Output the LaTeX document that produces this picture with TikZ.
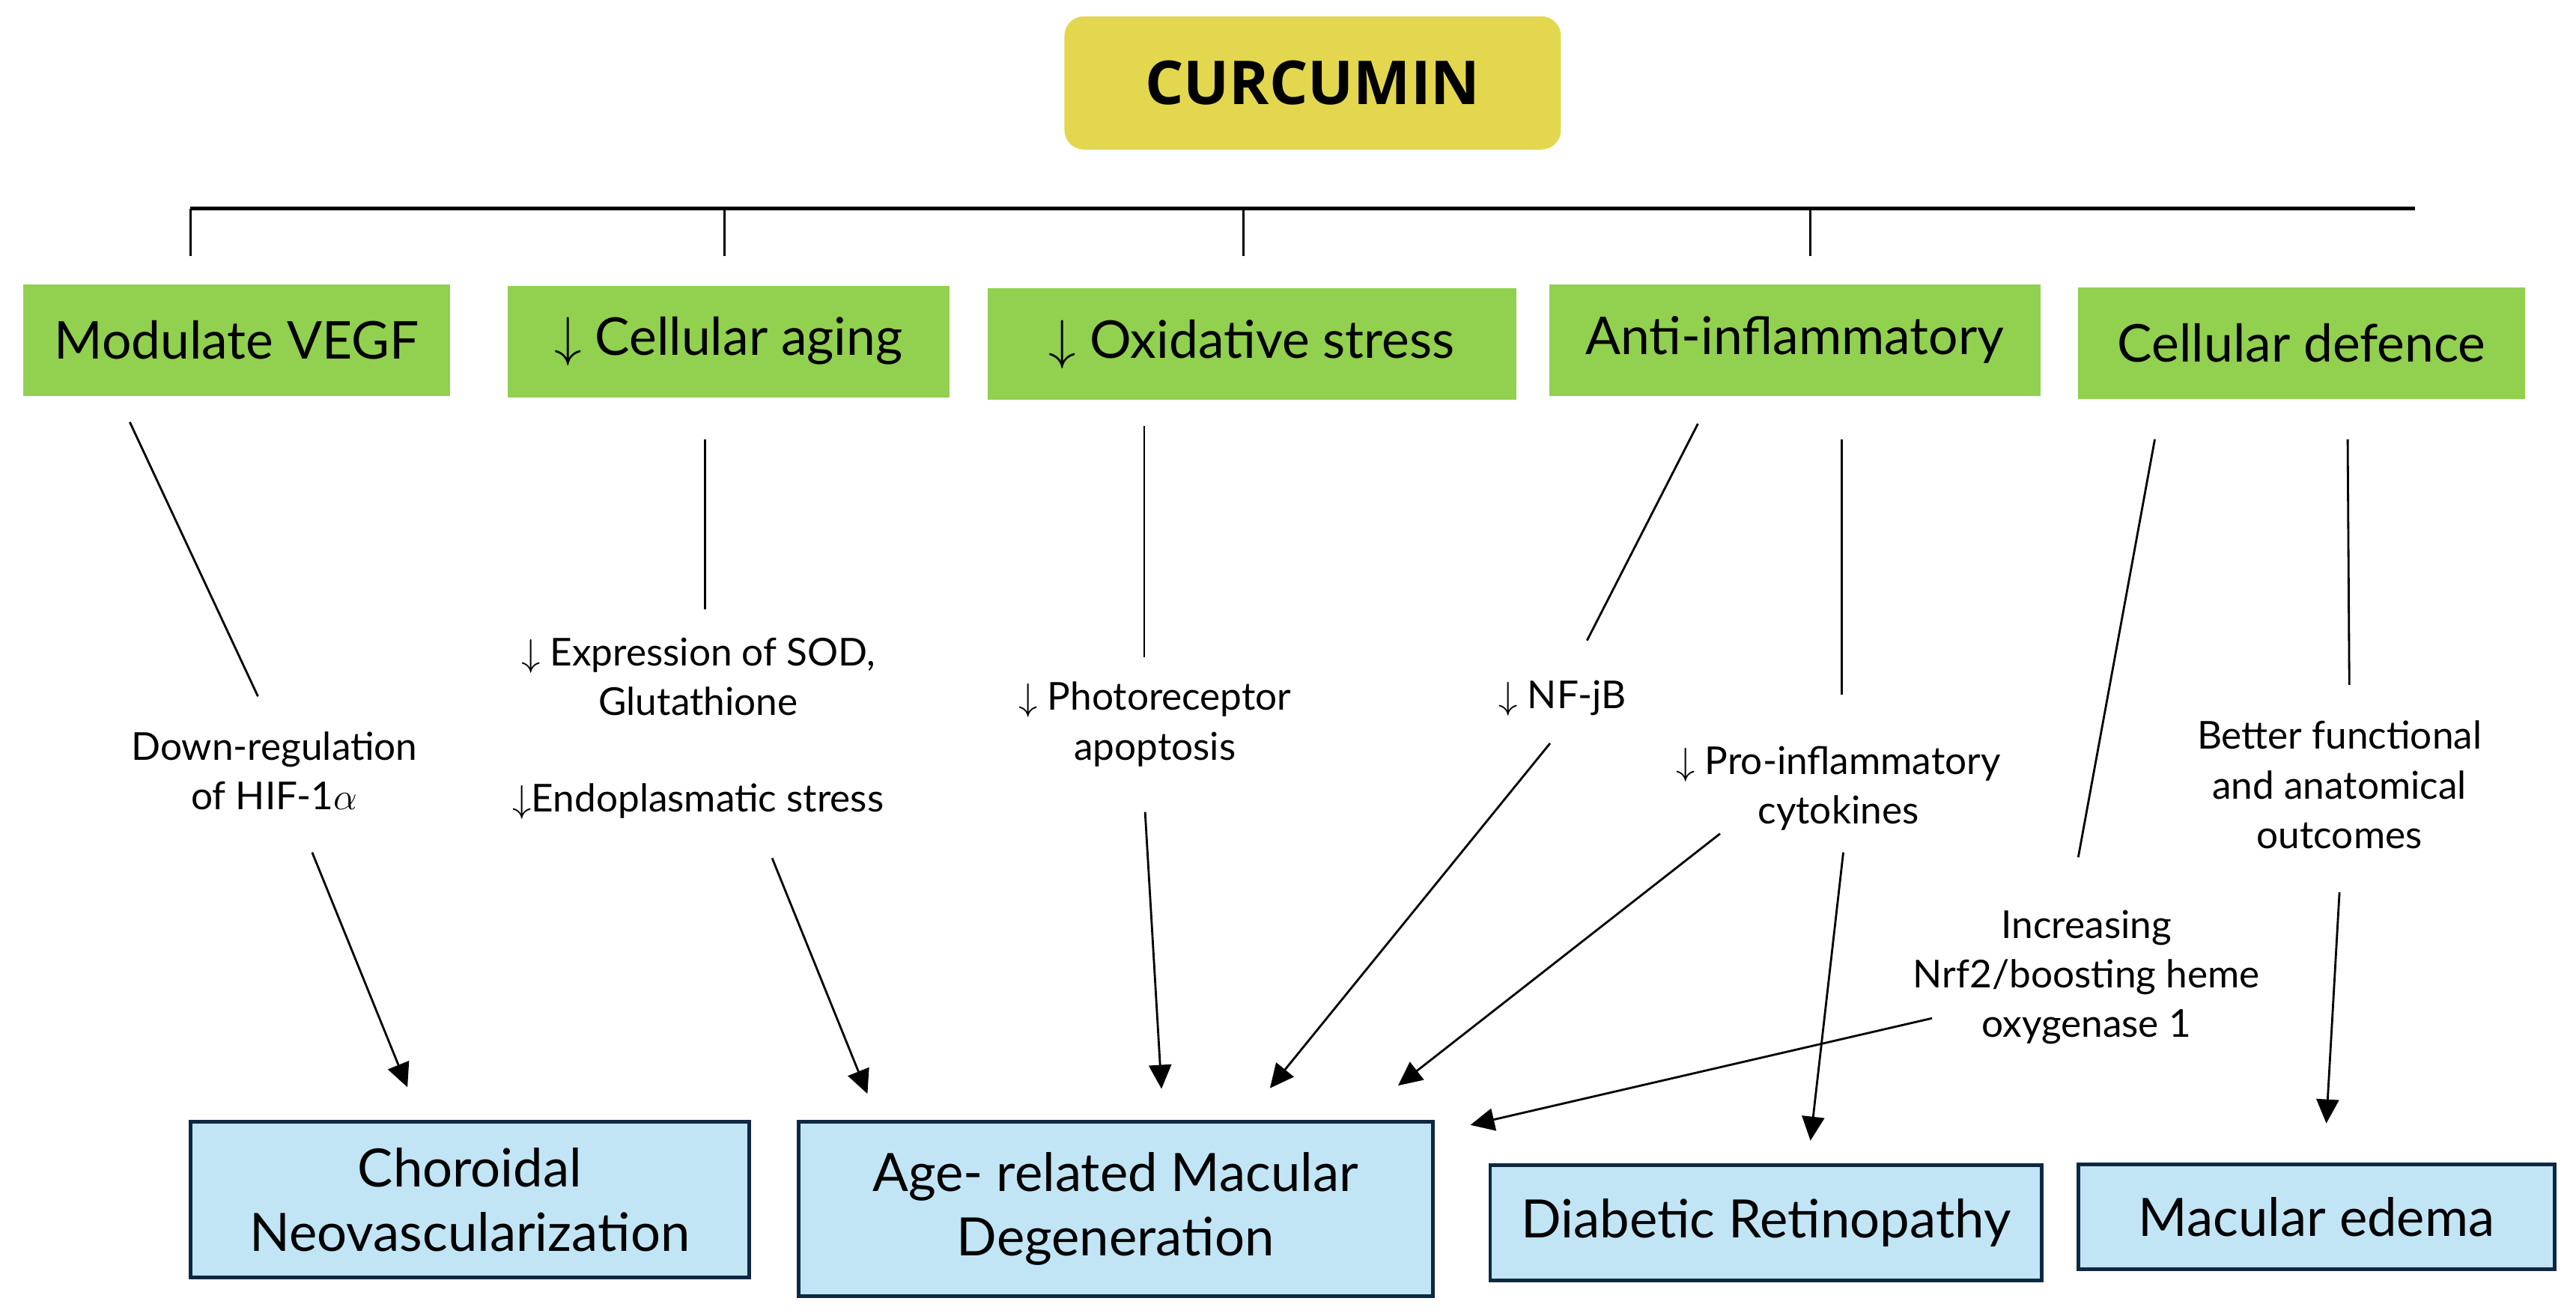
\documentclass[tikz,border=0pt]{standalone}
\usepackage{fontspec}
\setmainfont{Lato}
\newfontfamily\headfont{Open Sans}
\usepackage{tikz}
\usetikzlibrary{calc}
\usetikzlibrary{arrows.meta}

\definecolor{curyellow}{HTML}{E3D74F}
\definecolor{effgreen}{HTML}{92D050}
\definecolor{disblue}{HTML}{C1E5F5}
\definecolor{disborder}{HTML}{0E2841}

\tikzset{
    curbox/.style={fill=curyellow,rounded corners=2.6mm,minimum width=66.3mm,minimum height=17.8mm,
        inner sep=0pt,font=\headfont\bfseries\fontsize{23}{28}\selectfont},
    effect/.style={fill=effgreen,minimum height=14.9mm,inner sep=0pt,font=\fontsize{19.8}{23}\selectfont},
    disease/.style={fill=disblue,draw=disborder,line width=1.4pt,inner sep=0pt,align=center,
        font=\fontsize{20.1}{24.6}\selectfont},
    note/.style={align=center,inner sep=0pt,font=\fontsize{14.6}{18.9}\selectfont},
    bus/.style={line width=1.5pt},
    tick/.style={line width=0.9pt},
    link/.style={line width=0.8pt},
    arr/.style={link,-{Triangle[length=3.2mm,width=3mm]}}
}

\begin{document}
\begin{tikzpicture}[x=0.2194mm,y=-0.2194mm]

            %\draw [help lines] (0,0) grid (1568,801);
            \useasboundingbox (0,0) rectangle (1568,801.3);

            \path   (799,50.5) node (cur) [curbox] {CURCUMIN};

            \path   (144,207)    node (vegf)  [effect,minimum width=57mm]   {Modulate VEGF}
                    (443.5,208)  node (aging) [effect,minimum width=59mm]   {$\downarrow$ Cellular aging}
                    (762,209.5)  node (oxid)  [effect,minimum width=70.6mm] {$\downarrow$ Oxidative stress}
                    (1092.5,207) node (infl)  [effect,minimum width=65.6mm] {Anti-inflammatory}
                    (1401,209)   node (def)   [effect,minimum width=59.7mm] {Cellular defence};

            \path   (167,469.5) node (hif)    [note] {Down-regulation\\of HIF-1$\alpha$}
                    (425,412)   node (sod)    [note] {$\downarrow$ Expression of SOD,\\Glutathione}
                    (425,488)   node (er)     [note] {$\downarrow$Endoplasmatic stress}
                    (703,441)   node (photo)  [note] {$\downarrow$ Photoreceptor\\apoptosis}
                    (951,425)   node (nfkb)   [note] {$\downarrow$ NF-jB}
                    (1119,480)  node (cyto)   [note] {$\downarrow$ Pro-inflammatory\\cytokines}
                    (1424,478)  node (better) [note] {Better functional\\and anatomical\\outcomes}
                    (1270,595)  node (nrf)    [note] {Increasing\\Nrf2/boosting heme\\oxygenase 1};

            \path   (286,730.5) node (cnv) [disease,minimum width=74.6mm,minimum height=20.8mm] {Choroidal\\Neovascularization}
                    (679,736)   node (amd) [disease,minimum width=84.7mm,minimum height=23.3mm] {Age- related Macular\\Degeneration}
                    (1075,744.5) node (dr) [disease,minimum width=73.7mm,minimum height=15.4mm] {Diabetic Retinopathy}
                    (1410,741)  node (me)  [disease,minimum width=63.6mm,minimum height=14mm] {Macular edema};

            % branch line under curcumin
            \draw[bus] (116,127) coordinate (busl) -- (1470,127) coordinate (busr);
            \draw[tick] (busl) -- ++(0,29);
            \draw[tick] (441,127) -- ++(0,29);
            \draw[tick] (757,127) -- ++(0,29);
            \draw[tick] (1102,127) -- ++(0,29);

            \draw[link] ($(vegf)+(-65,50)$) -- ($(hif)+(-10,-45.5)$);
            \draw[arr]  ($(hif)+(23,49.5)$) -- ($(cnv)+(-38,-68.5)$);

            \draw[link] ($(aging)+(-14.5,59.5)$) -- ($(sod)+(4,-41)$);
            \draw[arr]  ($(er)+(45,34.5)$) -- ($(amd)+(-151,-70)$);

            \draw[link] ($(oxid)+(-65.5,50)$) -- ($(photo)+(-6.5,-41)$);
            \draw[arr]  ($(photo)+(-6,53.4)$) -- ($(amd)+(28,-73)$);

            \draw[link] ($(infl)+(-59,51)$) -- ($(nfkb)+(15,-35)$);
            \draw[arr]  ($(nfkb)+(-7.5,27.6)$) -- ($(amd)+(94,-73.4)$);
            \draw[link] ($(infl)+(28.5,60.5)$) -- ($(cyto)+(2,-57)$);
            \draw[arr]  ($(cyto)+(-72,27.6)$) -- ($(amd)+(172,-75)$);
            \draw[arr]  ($(cyto)+(3,39)$) -- ($(dr)+(27,-50)$);

            \draw[link] ($(def)+(-89.4,58.5)$) -- ($(nrf)+(-5,-73)$);
            \draw[arr]  ($(nrf)+(-94,25)$) -- ($(amd)+(216,-51)$);
            \draw[link] ($(def)+(28,58.5)$) -- ($(better)+(6,-61)$);
            \draw[arr]  ($(better)+(0,65.4)$) -- ($(me)+(6,-57)$);

        \end{tikzpicture}
\end{document}
